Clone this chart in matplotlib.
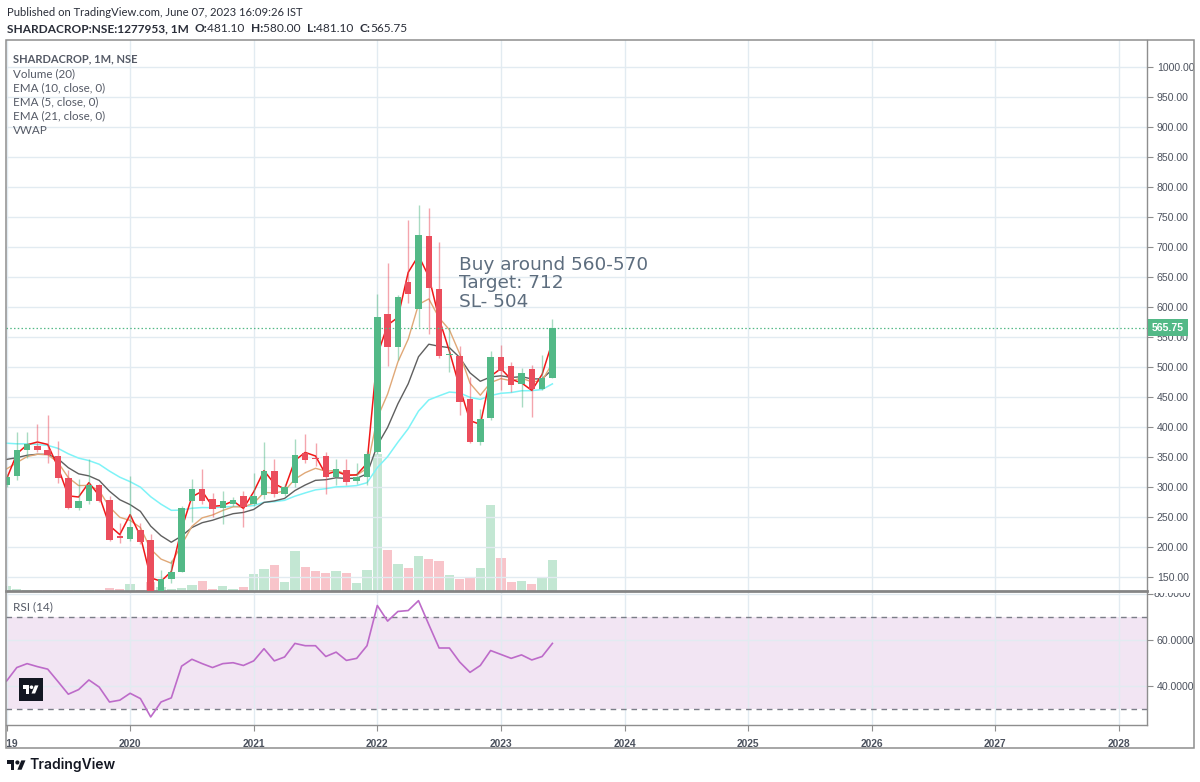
import matplotlib
matplotlib.use("Agg")
import matplotlib.pyplot as plt
from matplotlib.patches import Rectangle, Polygon, Ellipse
from matplotlib.transforms import Bbox, blended_transform_factory
import numpy as np

# ---------------- data: monthly bars, Jan 2019 .. Jun 2023 ----------------
opens  = [303, 318, 361, 368, 362, 351, 315, 265, 276, 303, 278, 218,
          213, 228, 212, 127, 147, 159, 277, 297, 280, 265, 272, 285,
          271, 287, 327, 288, 306, 357, 348, 352, 317, 328, 310, 316,
          359, 588, 534, 642, 596, 718, 630, 520, 519, 447, 375, 415,
          516, 502, 471, 496, 464, 481.10]
highs  = [322, 392, 392, 405, 420, 377, 328, 313, 347, 305, 285, 240,
          318, 240, 222, 162, 178, 268, 313, 330, 290, 294, 283, 293,
          323, 375, 346, 305, 380, 388, 374, 358, 346, 346, 340, 360,
          621, 674, 620, 745, 770, 765, 708, 565, 535, 484, 430, 526,
          536, 509, 498, 503, 520, 580.00]
lows   = [300, 312, 348, 358, 340, 307, 263, 261, 272, 275, 210, 207,
          210, 205, 100, 120, 140, 158, 242, 272, 250, 238, 268, 233,
          268, 280, 283, 285, 300, 340, 335, 288, 303, 303, 305, 303,
          355, 502, 512, 606, 567, 555, 515, 492, 420, 373, 370, 412,
          462, 459, 433, 417, 462, 481.10]
closes = [317, 362, 371, 362, 353, 315, 265, 276, 303, 277, 212, 215,
          234, 209, 124, 147, 159, 265, 296, 277, 263, 276, 279, 267,
          285, 327, 288, 300, 353, 345, 346, 317, 330, 309, 316, 355,
          583, 534, 616, 622, 720, 632, 519, 522, 442, 375, 413, 516,
          494, 470, 490, 463, 481, 565.75]
volume_lakh = [2.5, 1, 0.5, 0.5, 0.5, 0.5, 0.5, 0.5, 0.5, 0.5, 1.5, 1,
               3.5, 0.5, 4.5, 2, 1, 1.5, 3, 5, 1, 2.5, 1, 2,
               8.5, 11, 13, 4.5, 20, 12, 10, 9, 10, 9, 4, 10.5,
               68.5, 20.5, 13.5, 11.5, 17.5, 16, 15, 8, 6, 6.5, 11.5, 43,
               16.5, 4.5, 5, 3.5, 7, 15.5]
rsi14 = [42.1, 48.0, 49.7, 48.4, 47.3, 41.9, 36.4, 38.4, 42.6, 39.5, 33.0, 33.8,
         36.8, 34.5, 26.5, 33.0, 34.8, 48.6, 51.6, 49.7, 48.0, 49.7, 50.1, 48.9,
         50.9, 56.2, 50.9, 52.6, 58.5, 57.5, 57.5, 52.8, 54.7, 51.1, 52.0, 57.5,
         75.0, 68.2, 72.4, 72.8, 77.1, 66.7, 56.5, 56.5, 50.4, 45.9, 48.9, 55.4,
         53.7, 52.0, 53.5, 51.3, 52.8, 58.5]
# EMA values at the first visible bar, then EMA recursion
ema5_start, ema10_start, ema21_start = 330, 346, 373
last_price = 565.75
year_labels = ['2019', '2020', '2021', '2022', '2023', '2024', '2025', '2026', '2027', '2028']
price_ticks = [150, 200, 250, 300, 350, 400, 450, 500, 550, 600, 650, 700,
               750, 800, 850, 900, 950, 1000]
rsi_ticks = [40, 60, 80]
rsi_bands = [30, 70]
annotation_lines = ['Buy around 560-570', 'Target: 712', 'SL- 504']
legend_lines = ['Volume (20)', 'EMA (10, close, 0)', 'EMA (5, close, 0)',
                'EMA (21, close, 0)', 'VWAP']


def ema(values, period, start):
    a = 2.0 / (period + 1)
    out = [start]
    for v in values[1:]:
        out.append(out[-1] + a * (v - out[-1]))
    return out


x = np.arange(len(closes))
o = np.array(opens); h = np.array(highs); l = np.array(lows); c = np.array(closes)
vwap = (h + l + c) / 3.0
ema5 = ema(closes, 5, ema5_start)
ema10 = ema(closes, 10, ema10_start)
ema21 = ema(closes, 21, ema21_start)
up = c >= o

# ---------------- style ----------------
GREEN = '#53b987'
RED = '#eb4d5c'
VOL_GREEN = '#c3e7d3'
VOL_RED = '#f8c4ca'
GRID = '#e2ebf1'
FRAME = '#8e8e8e'
TXT = '#4c525e'

W, H = 1200, 782
fig = plt.figure(figsize=(12, 7.82), dpi=100)
fig.patch.set_facecolor('white')
renderer = fig.canvas.get_renderer()


def fx(px):
    return px / W


def fy(py):
    return 1 - py / H


L, R = 6, 1147
PT, PB, RB = 40, 591, 725
XLIM = ((L - 6.5) / 10.3, (R - 6.5) / 10.3)

ax_vol = fig.add_axes([fx(L), fy(PB), (R - L) / W, (PB - PT) / H])
ax = fig.add_axes([fx(L), fy(PB), (R - L) / W, (PB - PT) / H])
ax_rsi = fig.add_axes([fx(L), fy(RB), (R - L) / W, (RB - PB) / H])
ax_vol.set_zorder(0)
ax.set_zorder(1)
ax.patch.set_visible(False)

year_pos = [12 * i for i in range(len(year_labels))]

# volume
ax_vol.bar(x, volume_lakh, width=0.9, color=[VOL_GREEN if u else VOL_RED for u in up],
           linewidth=0)
ax_vol.set_xlim(*XLIM)
ax_vol.set_ylim(0, 275.5)
ax_vol.axis('off')

# price pane
ax.set_xlim(*XLIM)
ax.set_ylim(126.7, 1045)
ax.set_xticks(year_pos)
ax.set_yticks(price_ticks)
ax.grid(True, color=GRID, linewidth=1, zorder=0)
ax.set_axisbelow(True)
ax.tick_params(axis='x', length=0, labelbottom=False)
ax.yaxis.tick_right()
ax.tick_params(axis='y', direction='out', length=4, width=0.8, color=FRAME,
               labelsize=7.6, labelcolor=TXT, pad=3)
ax.set_yticklabels(['%.2f' % t for t in price_ticks], family='Liberation Sans')
for s in ['left', 'top']:
    ax.spines[s].set_visible(False)
ax.spines['right'].set_color(FRAME)
ax.spines['right'].set_linewidth(1)
ax.spines['bottom'].set_color('#858585')
ax.spines['bottom'].set_linewidth(2)

ax.plot(x, ema21, color='#7ef3f7', lw=1.1, zorder=2)
ax.plot(x, ema10, color='#5f5f5f', lw=1.0, zorder=2)
ax.plot(x, ema5, color='#e0a877', lw=1.0, zorder=2)
ax.plot(x, vwap, color='#f01818', lw=1.1, zorder=2)

wick_cols = [GREEN if u else RED for u in up]
ax.vlines(x, l, h, colors=wick_cols, linewidth=1.0, alpha=0.5, zorder=3)
body_h = np.maximum(np.abs(c - o), 1.6)
ax.bar(x, body_h, bottom=np.minimum(o, c), width=0.64, color=wick_cols,
       linewidth=0, zorder=4)

ax.axhline(last_price, color=GREEN, lw=0.9, ls=(0, (1.2, 1.8)), zorder=5)

# last price label
bt = blended_transform_factory(fig.transFigure, ax.transData)
fig.patches.append(Rectangle((fx(1148), last_price - 13.5), fx(40), 27,
                             transform=bt, facecolor=GREEN, edgecolor='none', zorder=10))
fig.text(fx(1168), last_price, '%.2f' % last_price, transform=bt, color='white',
         fontsize=7.6, fontweight='bold', family='Liberation Sans',
         ha='center', va='center', zorder=11)

# RSI pane
ax_rsi.set_xlim(*XLIM)
ax_rsi.set_ylim(23.0, 81.3)
ax_rsi.axhspan(rsi_bands[0], rsi_bands[1], color='#cf9fd6', alpha=0.27, lw=0, zorder=0)
ax_rsi.set_xticks(year_pos)
ax_rsi.set_xticklabels(year_labels)
ax_rsi.set_yticks(rsi_ticks)
ax_rsi.set_yticklabels(['%.4f' % t for t in rsi_ticks[:-1]] + [''])
ax_rsi.grid(True, color=GRID, linewidth=1, zorder=0.5)
ax_rsi.set_axisbelow(True)
ax_rsi.yaxis.tick_right()
ax_rsi.tick_params(axis='y', direction='out', length=4, width=0.8, color=FRAME,
                   labelsize=7.6, labelcolor=TXT, pad=3)
ax_rsi.tick_params(axis='x', direction='out', length=4, width=0.8, color=FRAME,
                   labelsize=7.4, labelcolor=TXT, pad=6)
for lab in ax_rsi.get_yticklabels():
    lab.set_family('Liberation Sans')
for lab in ax_rsi.get_xticklabels():
    lab.set_family('Liberation Sans')
    lab.set_fontweight('bold')
    lab.set_clip_on(True)
    lab.set_clip_box(Bbox.from_extents(L, 0, W, H))
for b in rsi_bands:
    ax_rsi.axhline(b, color='#7b7e88', lw=1, ls=(0, (4, 3.5)), zorder=1)
ax_rsi.plot(x, rsi14, color='#bd6bc9', lw=1.2, zorder=3)
for s in ['left', 'top']:
    ax_rsi.spines[s].set_visible(False)
for s in ['right', 'bottom']:
    ax_rsi.spines[s].set_color(FRAME)
    ax_rsi.spines[s].set_linewidth(1)

# clipped "80.0000" label at the pane boundary
t80 = fig.text(fx(1154), 80, '%.4f' % rsi_ticks[-1],
               transform=blended_transform_factory(fig.transFigure, ax_rsi.transData),
               fontsize=7.6, color=TXT, family='Liberation Sans', ha='left', va='center')
t80.set_clip_on(True)
t80.set_clip_box(Bbox.from_extents(0, 0, W, H - PB - 1.5))

# outer frame
fig.patches.append(Rectangle((fx(L), fy(748)), fx(1194) - fx(L), fy(PT) - fy(748),
                             transform=fig.transFigure, fill=False,
                             edgecolor=FRAME, linewidth=1.1, zorder=20))


# ---------------- texts ----------------
def fit_text(px, py, s, width, size0=10, **kw):
    t = fig.text(fx(px), fy(py), s, fontsize=size0, **kw)
    w = t.get_window_extent(renderer).width
    t.set_fontsize(size0 * width / w)
    return t


def runs_text(px, py, runs, width, family, color, size0=10):
    def place(size):
        objs, cur = [], px
        for s, wt in runs:
            t = fig.text(fx(cur), fy(py), s, fontsize=size, fontweight=wt,
                         family=family, color=color, ha='left', va='center')
            cur += t.get_window_extent(renderer).width
            objs.append(t)
        return objs, cur - px
    objs, total = place(size0)
    for t in objs:
        t.remove()
    objs, total = place(size0 * width / total)
    return objs


HEAD = '#2a2e39'
fit_text(7, 12.5, 'Published on TradingView.com, June 07, 2023 16:09:26 IST', 297,
         family='Lato', color=HEAD, va='center')
runs_text(7, 29, [('SHARDACROP:NSE:1277953, 1M  ', 'bold'), ('O:', 'bold'), ('481.10  ', 'normal'),
                  ('H:', 'bold'), ('580.00  ', 'normal'), ('L:', 'bold'), ('481.10  ', 'normal'),
                  ('C:', 'bold'), ('565.75', 'normal')], 398, 'Lato', HEAD)

LEG = '#555a66'
LEG_Y0, LEG_DY = 59.0, 14.3
fit_text(13, LEG_Y0, 'SHARDACROP, 1M, NSE', 124, family='Lato', fontweight='bold',
         color=LEG, va='center')
ref = fit_text(13, LEG_Y0 + LEG_DY * 2, legend_lines[1], 92, family='Lato', color=LEG,
               va='center')
leg_size = ref.get_fontsize()
ref.remove()
for i, s in enumerate(legend_lines):
    fig.text(fx(13), fy(LEG_Y0 + LEG_DY * (i + 1)), s, fontsize=leg_size, family='Lato',
             color=LEG, va='center')

fit_text(13, 607, 'RSI (14)', 40, family='Lato', color=LEG, va='center')

ANN = '#5d6d7e'
a0 = fit_text(459, 270.5, annotation_lines[0], 189, family='DejaVu Sans', color=ANN,
              va='baseline')
asz = a0.get_fontsize()
for i, s in enumerate(annotation_lines[1:]):
    fig.text(fx(459), fy(270.5 + 18.0 * (i + 1)), s, fontsize=asz, family='DejaVu Sans',
             color=ANN, va='baseline')


# TradingView logo marks
def draw_logo(x0, y0, s, color, z=30):
    def P(u, v):
        return (fx(x0 + u * s), fy(y0 + v * s))
    t_shape = [P(14, 22), P(7, 22), P(7, 11), P(0, 11), P(0, 4), P(14, 4)]
    v_shape = [P(28, 22), P(20, 22), P(27.5, 4), P(35.5, 4)]
    for pts in (t_shape, v_shape):
        fig.patches.append(Polygon(pts, closed=True, transform=fig.transFigure,
                                   facecolor=color, edgecolor='none', zorder=z))
    cx, cy = P(20, 8)
    fig.patches.append(Ellipse((cx, cy), 8 * s / W, 8 * s / H, transform=fig.transFigure,
                               facecolor=color, edgecolor='none', zorder=z))


fig.patches.append(Rectangle((fx(18.5), fy(701)), fx(24), fy(678) - fy(701),
                             transform=fig.transFigure, facecolor='#131722',
                             edgecolor='none', zorder=29))
draw_logo(22.5, 683.6, 0.45, 'white')
draw_logo(7, 758.3, 0.52, '#131722')
fit_text(29, 765, 'TradingView', 86, family='Inter', fontweight='semibold',
         color='#131722', va='center')

fig.savefig('out.png', dpi=100, facecolor='white')
